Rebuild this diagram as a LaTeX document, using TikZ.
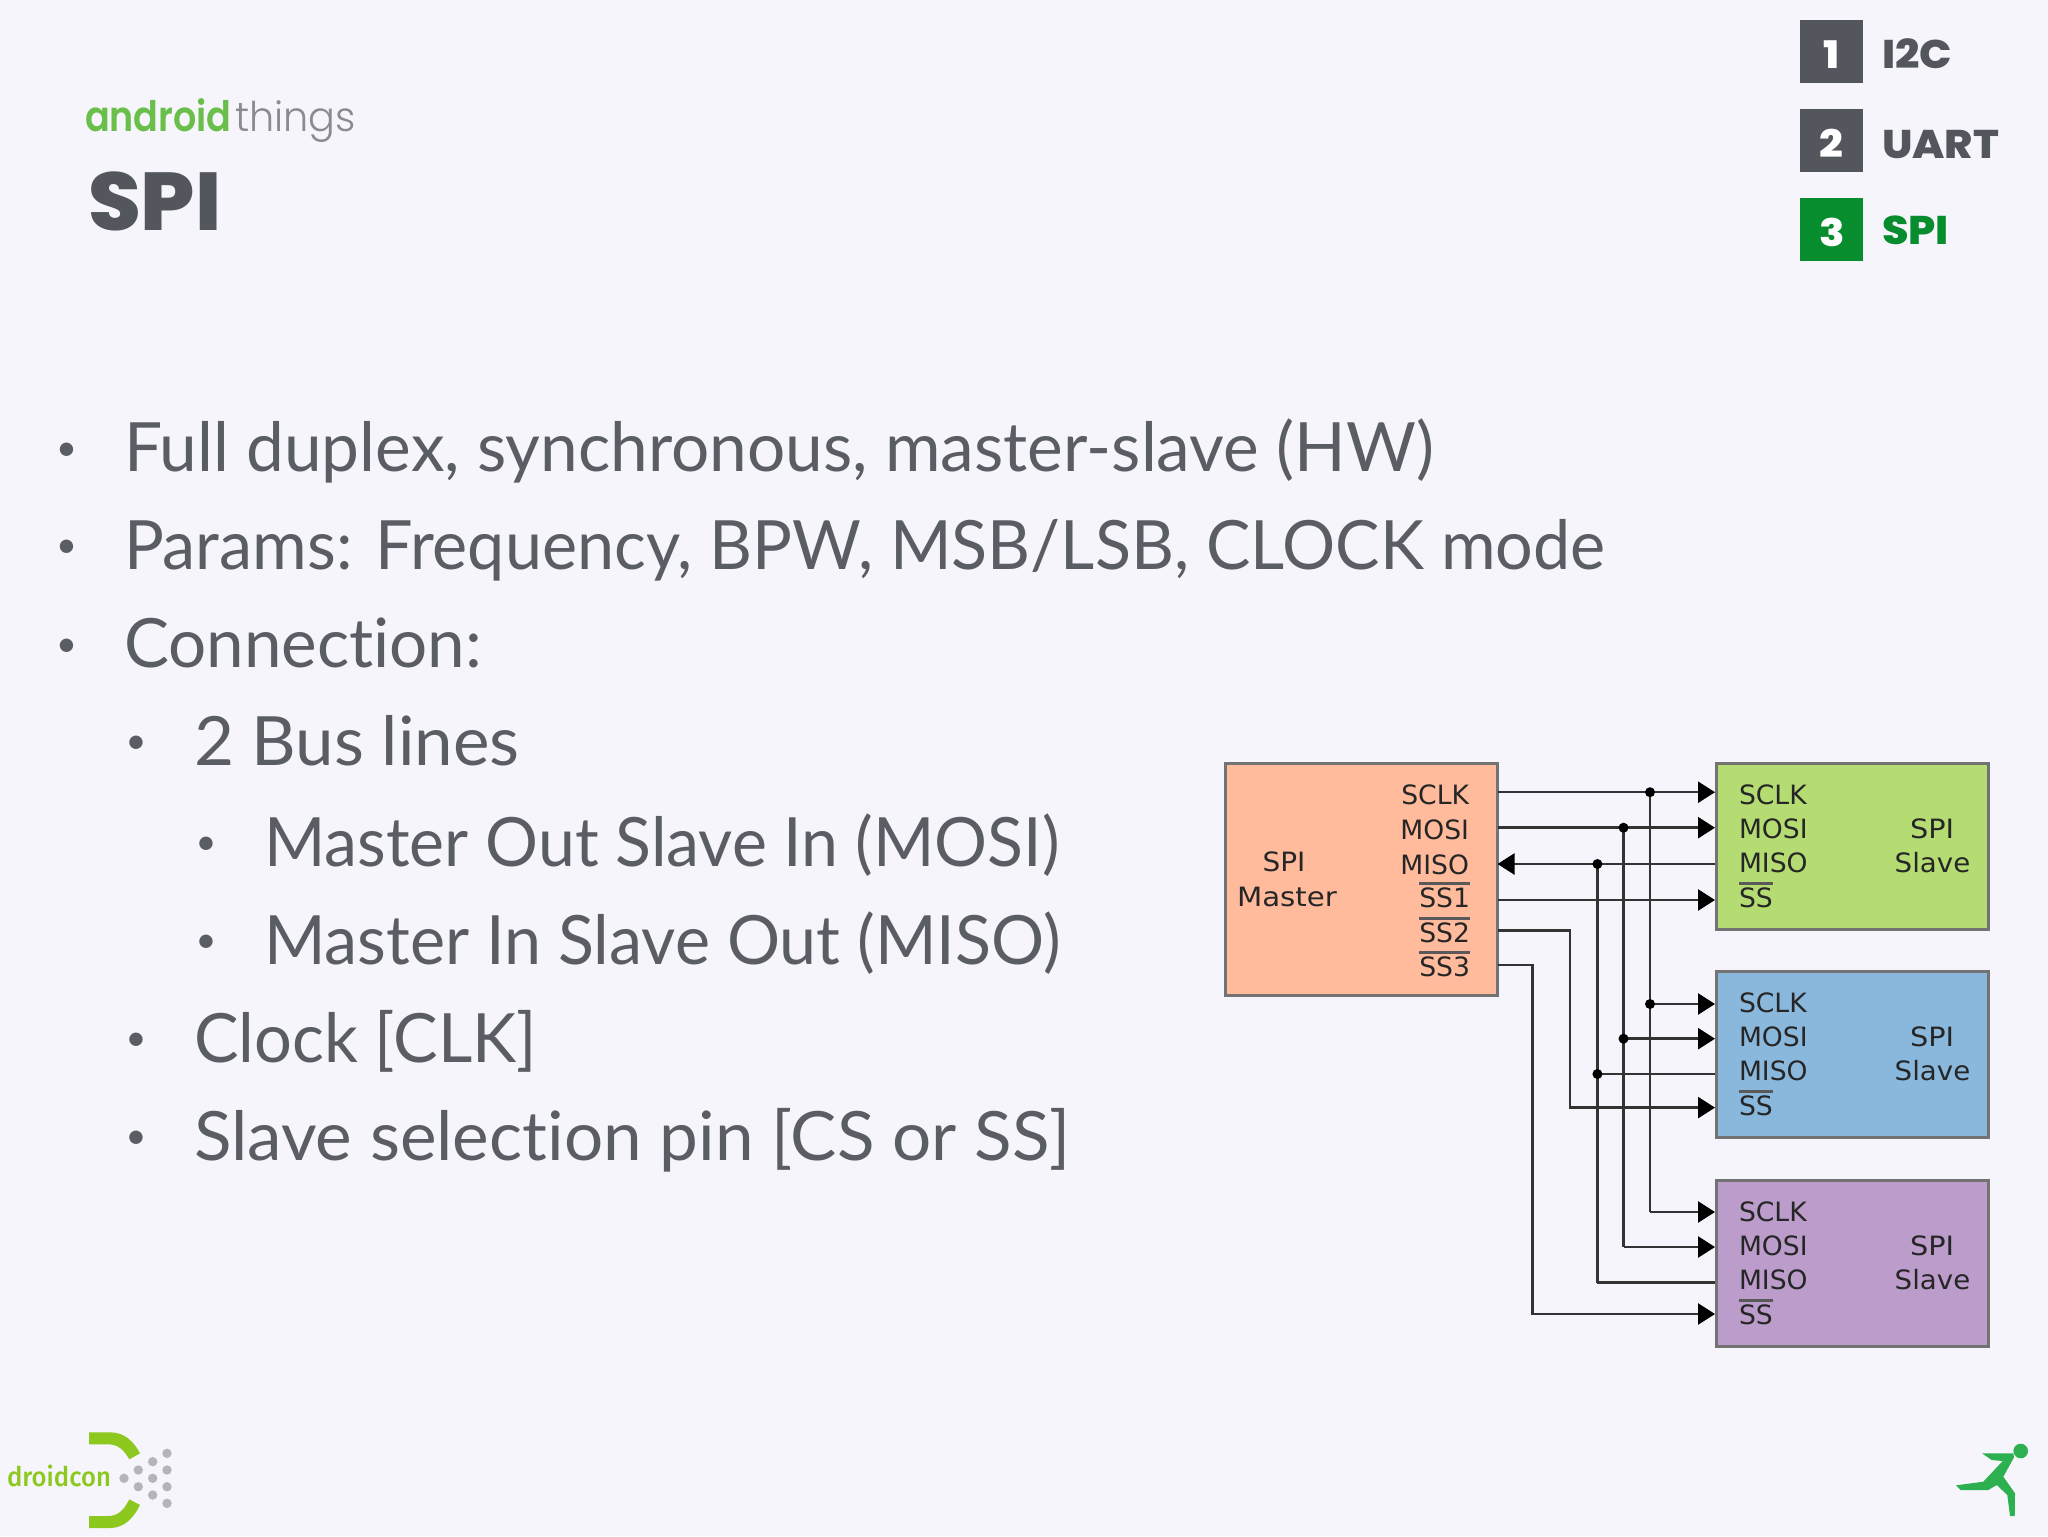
\documentclass[tikz,border=0pt]{standalone}
\usepackage{graphicx}
\usepackage{fontspec}
\setmainfont{Lato}[Ligatures=NoCommon]
\newfontfamily\boxfont{DejaVu Sans}
\newfontfamily\heavyfont{Poppins}[UprightFont=* ExtraBold]
\newfontfamily\logofont{Poppins}[UprightFont=* SemiBold]
\newfontfamily\logolight{Poppins}[UprightFont=* Light]
\newfontfamily\dcfont{Fira Sans}[UprightFont=* Medium]
\usetikzlibrary{arrows.meta}
\definecolor{pagebg}{HTML}{F5F5FB}
\definecolor{bodygrey}{HTML}{5A5D63}
\definecolor{navgrey}{HTML}{53565C}
\definecolor{navgreen}{HTML}{078C2E}
\definecolor{andgreen}{HTML}{6ABF4B}
\definecolor{thgrey}{HTML}{8A8A90}
\definecolor{dcgreen}{HTML}{8CC81E}
\definecolor{dotgrey}{HTML}{B4B4BC}
\definecolor{runner}{HTML}{2DB04F}
\definecolor{mastercol}{HTML}{FFBB9C}
\definecolor{slaveA}{HTML}{B5DC72}
\definecolor{slaveB}{HTML}{8AB8DC}
\definecolor{slaveC}{HTML}{BB9CCB}
% overbar of the active-low pins
\newcommand{\ovl}[1]{\leavevmode\vbox{{\color{black!65}\hrule height 1.4pt}\kern1.3pt\hbox{#1}}}
\newcommand{\wide}[2]{\scalebox{#1}[1]{#2}}
% digit of the nav squares, sits a little under the middle
\newcommand{\navnum}[1]{\raisebox{-8.3pt}[0pt][0pt]{\wide{1.1}{#1}}}
\tikzset{
  txt/.style={inner sep=0pt,outer sep=0pt,text=bodygrey,font=\fontsize{34}{40}\selectfont,anchor=base west},
  bul/.style={inner sep=0pt,outer sep=0pt,text=bodygrey,font=\fontsize{18}{20}\selectfont,anchor=center},
  navbox/.style={minimum size=31.5pt,inner sep=0pt,outer sep=0pt,fill=#1,text=white,font=\heavyfont\fontsize{19}{20}\selectfont},
  navtxt/.style={inner sep=0pt,outer sep=0pt,anchor=base west,text=#1,font=\heavyfont\fontsize{20}{24}\selectfont},
  chip/.style={draw=black!55,line width=1.5pt,inner sep=0pt,outer sep=0pt,fill=#1},
  pin/.style={inner sep=0pt,outer sep=0pt,font=\boxfont\fontsize{13.3}{15}\selectfont,text=black!85},
  wire/.style={line width=1.25pt,black!80},
  sig/.style={wire,-{Triangle[length=8.5pt,width=10.5pt,black]}},
  jn/.style={circle,fill=black,inner sep=0pt,minimum size=5pt},
}
\begin{document}
\begin{tikzpicture}[x=0.5pt,y=-0.5pt]
\useasboundingbox[fill=pagebg] (0,0) rectangle (2048,1536);

% top right
\node[navbox=navgrey] (n1) at (1831.8,51.8) {\navnum{1}};
\node[navbox=navgrey] (n2) at (1831.8,140.8) {\navnum{2}};
\node[navbox=navgreen] (n3) at (1831.8,229.8) {\navnum{3}};
\node[navtxt=navgrey] (t1) at (1882,68.3) {\wide{1.07}{I2C}};
\node[navtxt=navgrey] (t2) at (1882,158.3) {\wide{1.07}{UART}};
\node[navtxt=navgreen] (t3) at (1882,244.3) {\wide{1.07}{SPI}};

% title
\node[inner sep=0pt,outer sep=0pt,anchor=base west,text=andgreen,font=\logofont\fontsize{21}{24}\selectfont] (and) at (85,131.5) {\wide{.87}{android}};
\node[inner sep=0pt,outer sep=0pt,anchor=base west,text=thgrey,font=\logolight\fontsize{20.5}{24}\selectfont] (thi) at (235,131.5) {\wide{.97}{things}};
\node[inner sep=0pt,outer sep=0pt,anchor=base west,text=navgrey,font=\heavyfont\fontsize{41}{48}\selectfont] (spi) at (88,230) {\wide{1.04}{SPI}};

% bullets
\foreach \n/\bx/\tx/\yy/\f/\s in {
  a/66.5/124/471.5/.993/{Full duplex, synchronous, master-slave (HW)},
  b/66.5/124/569/.977/{Params: Frequency, BPW, MSB/LSB, CLOCK mode},
  c/66.5/124/667.5/.99/{Connection:},
  d/136/194/765/1.016/{2 Bus lines},
  e/206/264/866/.973/{Master Out Slave In (MOSI)},
  f/206/264/964/.976/{Master In Slave Out (MISO)},
  g/136/194/1062/.981/{Clock [CLK]},
  h/136/194/1160/1.018/{Slave selection pin [CS or SS]}}{
  \node[bul] (b\n) at (\bx,\yy-20) {•};
  \node[txt] (l\n) at (\tx,\yy) {\wide{\f}{\s}};
}

% master
\node[chip=mastercol,minimum width=136pt,minimum height=116pt] (mast) at (1361.5,879.6) {};
\foreach \n/\yy/\s in {sclk/804.5/SCLK,mosi/839/MOSI,miso/874/MISO}
  \node[pin,anchor=base east] (m\n) at (1469,\yy) {\s};
\foreach \n/\yy/\s in {a/907.5/SS1,b/942/SS2,c/976.5/SS3}
  \node[pin,anchor=base east] (ms\n) at (1470,\yy) {\ovl{\s}};
\node[pin,anchor=base] (mname) at (1284,871) {\wide{1.05}{SPI}};
\node[pin,anchor=base] (mnameb) at (1287,906) {\wide{1.1}{Master}};

% slaves
\foreach \n/\top/\col in {A/763.7/slaveA,B/971.7/slaveB,C/1180.6/slaveC}{
  \node[chip=\col,minimum width=136pt,minimum height=83pt,anchor=north west] (s\n) at (1716.8,\top) {};
  \node[pin,anchor=base west] (s\n sclk) at (1739,\top+40.5) {SCLK};
  \node[pin,anchor=base west] (s\n mosi) at (1739,\top+75) {MOSI};
  \node[pin,anchor=base west] (s\n miso) at (1739,\top+109) {MISO};
  \node[pin,anchor=base west] (s\n ss) at (1739,\top+143.5) {\ovl{SS}};
  \node[pin,anchor=base] (s\n a) at (1932,\top+75) {\wide{1.08}{SPI}};
  \node[pin,anchor=base] (s\n b) at (1932.5,\top+109) {\wide{1.04}{Slave}};
}

% connector ends on the boxes
\foreach \n/\yy in {ma/792.2,mb/827.7,mc/864,md/900,me/930.5,mf/965.2}
  \coordinate (\n) at (1497.5,\yy);
\foreach \s/\a/\b/\c/\d in {A/792.2/827.7/864/900,B/1004/1038.7/1074/1107.6,C/1212/1247/1282.6/1314}{
  \coordinate (p\s a) at (1715,\a);
  \coordinate (p\s b) at (1715,\b);
  \coordinate (p\s c) at (1715,\c);
  \coordinate (p\s d) at (1715,\d);
  \coordinate (j\s a) at (1650,\a);
  \coordinate (j\s b) at (1623.5,\b);
  \coordinate (j\s c) at (1597.4,\c);
}
\coordinate (bendb) at (1570,930.5);
\coordinate (bendc) at (1532.6,965.2);

\draw[sig] (ma) -- (pAa);
\draw[sig] (mb) -- (pAb);
\draw[sig] (pAc) -- (mc);
\draw[sig] (md) -- (pAd);
\draw[wire] (jAa) -- (jCa);
\draw[wire] (jAb) -- (jCb);
\draw[wire] (jAc) -- (jCc);
\draw[sig] (jBa) -- (pBa);
\draw[sig] (jBb) -- (pBb);
\draw[wire] (jBc) -- (pBc);
\draw[sig] (jCa) -- (pCa);
\draw[sig] (jCb) -- (pCb);
\draw[wire] (jCc) -- (pCc);
\draw[sig] (me) -- (bendb) |- (pBd);
\draw[sig] (mf) -- (bendc) |- (pCd);
\foreach \j in {jAa,jAb,jAc,jBa,jBb,jBc}
  \node[jn] at (\j) {};

% droidcon logo
\fill[dcgreen] (89,1432.3) -- (110,1432.3) .. controls (125,1432.3) and (134,1442) .. (140,1453.3) -- (129.3,1459.3) .. controls (124,1450) and (118,1444.3) .. (108,1444.3) -- (89,1444.3) -- cycle;
\fill[dcgreen] (89,1528) -- (110,1528) .. controls (125,1528) and (134,1517) .. (140,1505) -- (129.3,1499.3) .. controls (124,1510) and (118,1516) .. (108,1516) -- (89,1516) -- cycle;
\foreach \x/\y in {124/1478.3,138.3/1470,138.3/1486.7,152.7/1461.7,152.7/1478.3,152.7/1495,167/1453.3,167/1470,167/1486.7,167/1503.3}
  \fill[dotgrey] (\x,\y) circle (4.7);
\node[inner sep=0pt,outer sep=0pt,anchor=base west,text=dcgreen,font=\dcfont\fontsize{13.5}{16}\selectfont] (dc) at (7,1486) {\wide{.95}{droidcon}};

% runner
\fill[runner] (2020.7,1451) circle (7.3);
\fill[runner] (1982,1453.3) -- (2013.3,1453.3) -- (2014,1457.3) -- (2003.3,1476.7) -- (2015,1493.3) -- (2014.7,1516) -- (2010,1516) -- (2007.3,1495) -- (1996.7,1485) -- (1988.3,1490) -- (1960.7,1490) -- (1956,1485.3) -- (1983.3,1481.7) -- (2002.7,1461) -- (1991.7,1460) -- cycle;
\end{tikzpicture}
\end{document}
